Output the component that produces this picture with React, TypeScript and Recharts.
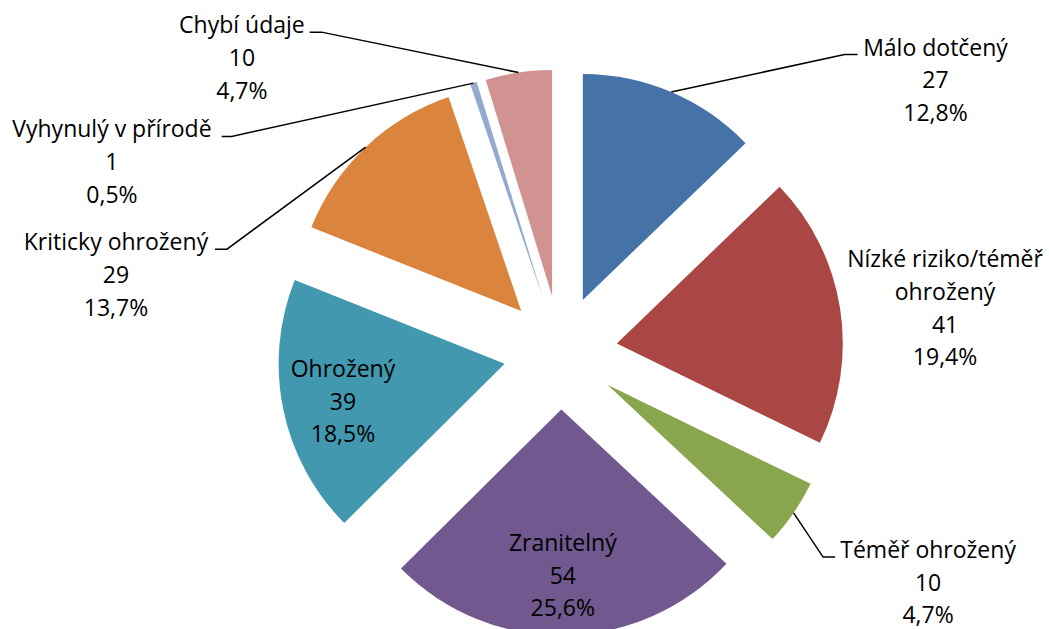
import React from 'react';
import { PieChart, Pie, Cell } from 'recharts';

// ---- data ----
const categories = [
  'Málo dotčený',
  'Nízké riziko/téměř ohrožený',
  'Téměř ohrožený',
  'Zranitelný',
  'Ohrožený',
  'Kriticky ohrožený',
  'Vyhynulý v přírodě',
  'Chybí údaje',
];
const categoryLabelLines = [
  ['Málo dotčený'],
  ['Nízké riziko/téměř', 'ohrožený'],
  ['Téměř ohrožený'],
  ['Zranitelný'],
  ['Ohrožený'],
  ['Kriticky ohrožený'],
  ['Vyhynulý v přírodě'],
  ['Chybí údaje'],
];
const counts = [27, 41, 10, 54, 39, 29, 1, 10];
const colors = ['#4572A7', '#AA4643', '#89A54E', '#71588F', '#4198AF', '#DB843D', '#93A9CF', '#D19392'];

// ---- layout ----
const W = 1049;
const H = 629;
const CX = 560.5;
const CY = 352.4;
const R = 226;
const EXPLODE = 57;
const FONT = '"Open Sans", sans-serif';
const FONT_SIZE = 23;
const LINE_H = 32.7;

const total = counts.reduce((a, b) => a + b, 0);
const data = categories.map((name, i) => ({ name, value: counts[i] }));
const fmtPct = (v: number) => (v / total * 100).toFixed(1).replace('.', ',') + '%';

// mid angle of each slice in degrees, clockwise from 12 o'clock
const midAngles = (() => {
  let acc = 0;
  return counts.map((v) => {
    const m = ((acc + v / 2) / total) * 360;
    acc += v;
    return m;
  });
})();

type LabelLayout =
  | { kind: 'leader'; elbow: [number, number]; tail: number; textDx: number }
  | { kind: 'side'; textDx: number; textDy: number }
  | { kind: 'inside'; r: number; textDx: number; textDy: number };

const labelLayouts: LabelLayout[] = [
  { kind: 'leader', elbow: [173.3, -37.4], tail: 13, textDx: 91 },
  { kind: 'side', textDx: 105, textDy: -41 },
  { kind: 'leader', elbow: [29.5, 44.2], tail: 12, textDx: 105 },
  { kind: 'inside', r: 222, textDx: -1, textDy: -23.4 },
  { kind: 'inside', r: 222, textDx: 0, textDy: -19.7 },
  { kind: 'leader', elbow: [-138.7, 102], tail: -12, textDx: -111 },
  { kind: 'leader', elbow: [-241.8, 53.3], tail: -10, textDx: -119.7 },
  { kind: 'leader', elbow: [-196.9, -40.4], tail: -12, textDx: -79.7 },
];

const renderLabel = (props: any) => {
  const { cx, cy, midAngle, index } = props;
  const rad = (-midAngle * Math.PI) / 180;
  const L = labelLayouts[index];
  const lines = [...categoryLabelLines[index], String(counts[index]), fmtPct(counts[index])];
  const r = L.kind === 'inside' ? L.r : R + EXPLODE;
  const ax = cx + r * Math.cos(rad);
  const ay = cy + r * Math.sin(rad);
  let leader: React.ReactNode = null;
  let tx: number;
  let ty: number;
  if (L.kind === 'leader') {
    const ex = ax + L.elbow[0];
    const ey = ay + L.elbow[1];
    leader = (
      <polyline
        points={`${ax},${ay} ${ex},${ey} ${ex + L.tail},${ey}`}
        fill="none"
        stroke="#000"
        strokeWidth={1.5}
      />
    );
    tx = ex + L.textDx;
    ty = ey + 1;
  } else {
    tx = ax + L.textDx;
    ty = ay + L.textDy;
  }
  return (
    <g key={`lbl-${index}`}>
      {leader}
      <text x={tx} y={ty} textAnchor="middle" fontFamily={FONT} fontSize={FONT_SIZE} fill="#000">
        {lines.map((l, k) => (
          <tspan key={k} x={tx} dy={k === 0 ? 0 : LINE_H}>
            {l}
          </tspan>
        ))}
      </text>
    </g>
  );
};

export default function App() {
  return (
    <div style={{ position: 'absolute', left: 0, top: 0, width: W, height: H, background: '#fff' }}>
      <PieChart width={W} height={H} margin={{ top: 0, right: 0, bottom: 0, left: 0 }}>
        {data.map((_, i) => {
          const a = (midAngles[i] * Math.PI) / 180;
          return (
            <Pie
              key={`slice-${i}`}
              data={data}
              dataKey="value"
              nameKey="name"
              cx={CX + EXPLODE * Math.sin(a)}
              cy={CY - EXPLODE * Math.cos(a)}
              innerRadius={0}
              outerRadius={R}
              startAngle={90}
              endAngle={-270}
              isAnimationActive={false}
              stroke="none"
              label={false}
              labelLine={false}
            >
              {data.map((__, j) => (
                <Cell key={`c-${j}`} fill={j === i ? colors[j] : 'transparent'} stroke="none" />
              ))}
            </Pie>
          );
        })}
        <Pie
          key="labels"
          data={data}
          dataKey="value"
          nameKey="name"
          cx={CX}
          cy={CY}
          innerRadius={0}
          outerRadius={R}
          startAngle={90}
          endAngle={-270}
          isAnimationActive={false}
          stroke="none"
          fill="transparent"
          label={renderLabel}
          labelLine={false}
        >
          {data.map((__, j) => (
            <Cell key={`lc-${j}`} fill="transparent" stroke="none" />
          ))}
        </Pie>
      </PieChart>
    </div>
  );
}
